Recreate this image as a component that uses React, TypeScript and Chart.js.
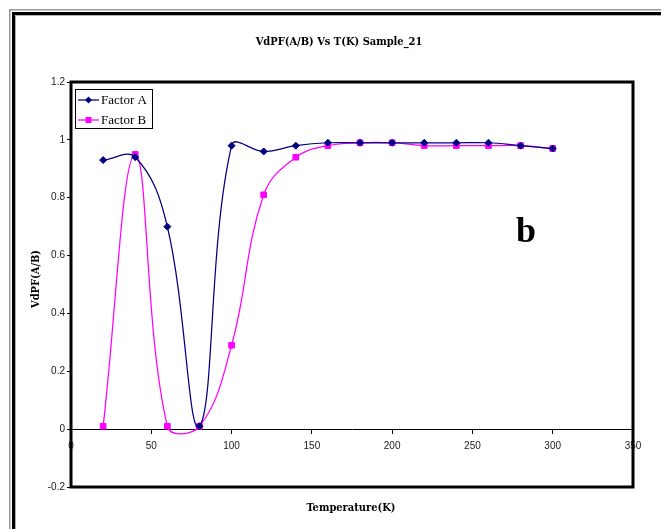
import React, { useEffect, useRef } from "react";
import { Chart, registerables } from "chart.js";

Chart.register(...registerables);

const temperatures = [20, 40, 60, 80, 100, 120, 140, 160, 180, 200, 220, 240, 260, 280, 300];
const factorA = [0.93, 0.94, 0.70, 0.01, 0.98, 0.96, 0.98, 0.99, 0.99, 0.99, 0.99, 0.99, 0.99, 0.98, 0.97];
const factorB = [0.01, 0.95, 0.01, 0.01, 0.29, 0.81, 0.94, 0.98, 0.99, 0.99, 0.98, 0.98, 0.98, 0.98, 0.97];
const xTicks = [0, 50, 100, 150, 200, 250, 300, 350];
const yTicks = [-0.2, 0, 0.2, 0.4, 0.6, 0.8, 1, 1.2];
const seriesNames = ["Factor A", "Factor B"];
const seriesColors = ["#000080", "#FF00FF"];
const chartTitle = "VdPF(A/B) Vs T(K) Sample_21";
const xTitle = "Temperature(K)";
const yTitle = "VdPF(A/B)";
const panelLabel = "b";

const TITLE_FONT = "bold 11px 'DejaVu Serif Condensed', 'DejaVu Serif', serif";

function drawMarker(ctx: CanvasRenderingContext2D, kind: string, x: number, y: number, color: string) {
  ctx.save();
  ctx.fillStyle = color;
  ctx.beginPath();
  if (kind === "diamond") {
    ctx.moveTo(x, y - 3.5);
    ctx.lineTo(x + 3.5, y);
    ctx.lineTo(x, y + 3.5);
    ctx.lineTo(x - 3.5, y);
    ctx.closePath();
  } else {
    ctx.rect(x - 3, y - 3, 6, 6);
  }
  ctx.fill();
  ctx.restore();
}

const decorPlugin = {
  id: "decor",
  beforeDraw(chart: any) {
    const ctx = chart.ctx as CanvasRenderingContext2D;
    const W = chart.width;
    const H = chart.height;
    ctx.save();
    ctx.fillStyle = "#ffffff";
    ctx.fillRect(0, 0, W, H);
    ctx.strokeStyle = "#9a9a9a";
    ctx.lineWidth = 1.5;
    ctx.beginPath();
    ctx.moveTo(9.75, H);
    ctx.lineTo(9.75, 9.75);
    ctx.lineTo(W, 9.75);
    ctx.stroke();
    ctx.strokeStyle = "#000000";
    ctx.lineWidth = 3;
    ctx.beginPath();
    ctx.moveTo(13.5, H);
    ctx.lineTo(13.5, 13.5);
    ctx.lineTo(W, 13.5);
    ctx.stroke();
    ctx.strokeStyle = "#b0b0b0";
    ctx.lineWidth = 1;
    ctx.beginPath();
    ctx.moveTo(15.5, H);
    ctx.lineTo(15.5, 15.5);
    ctx.lineTo(W, 15.5);
    ctx.stroke();
    ctx.restore();
  },
  afterDraw(chart: any) {
    const ctx = chart.ctx as CanvasRenderingContext2D;
    const a = chart.chartArea;
    ctx.save();
    ctx.strokeStyle = "#000000";
    ctx.lineWidth = 3;
    ctx.strokeRect(a.left, a.top, a.right - a.left, a.bottom - a.top);

    ctx.fillStyle = "#000000";
    ctx.font = TITLE_FONT;
    ctx.textAlign = "center";
    ctx.textBaseline = "middle";
    ctx.fillText(chartTitle, 339, 42);
    ctx.fillText(xTitle, 351, 508);
    ctx.save();
    ctx.translate(36, 279);
    ctx.rotate(-Math.PI / 2);
    ctx.fillText(yTitle, 0, 0);
    ctx.restore();

    ctx.font = "bold 36px 'Liberation Serif', serif";
    ctx.textAlign = "left";
    ctx.textBaseline = "alphabetic";
    ctx.fillText(panelLabel, 516, 242);

    const lx = 75.5, ly = 89.5, lw = 77, lh = 39;
    ctx.fillStyle = "#ffffff";
    ctx.fillRect(lx, ly, lw, lh);
    ctx.strokeStyle = "#000000";
    ctx.lineWidth = 1;
    ctx.strokeRect(lx, ly, lw, lh);
    const rows = [100, 120];
    seriesNames.forEach((name, i) => {
      const y = rows[i];
      ctx.strokeStyle = seriesColors[i];
      ctx.lineWidth = 1.25;
      ctx.beginPath();
      ctx.moveTo(78, y);
      ctx.lineTo(99, y);
      ctx.stroke();
      drawMarker(ctx, i === 0 ? "diamond" : "square", 88.5, y, seriesColors[i]);
      ctx.fillStyle = "#000000";
      ctx.font = "13px 'Liberation Serif', serif";
      ctx.textAlign = "left";
      ctx.textBaseline = "middle";
      ctx.fillText(name, 101, y + 0.5);
    });
    ctx.restore();
  },
};

export default function App() {
  const canvasRef = useRef<HTMLCanvasElement | null>(null);

  useEffect(() => {
    const canvas = canvasRef.current;
    if (!canvas) return;
    const toPoints = (ys: number[]) => temperatures.map((t, i) => ({ x: t, y: ys[i] }));
    const chart = new Chart(canvas, {
      type: "line",
      data: {
        datasets: [
          {
            label: seriesNames[0],
            data: toPoints(factorA),
            borderColor: seriesColors[0],
            backgroundColor: seriesColors[0],
            borderWidth: 1.25,
            pointStyle: "rectRot",
            pointRadius: 3.5,
            pointBorderWidth: 1,
            tension: 0.4,
            fill: false,
          },
          {
            label: seriesNames[1],
            data: toPoints(factorB),
            borderColor: seriesColors[1],
            backgroundColor: seriesColors[1],
            borderWidth: 1.25,
            pointStyle: "rect",
            pointRadius: 4,
            pointBorderWidth: 1,
            tension: 0.4,
            fill: false,
          },
        ],
      },
      options: {
        responsive: false,
        animation: false,
        events: [],
        layout: { padding: { left: 0, top: 82, right: 28, bottom: 42 } },
        plugins: {
          legend: { display: false },
          title: { display: false },
          tooltip: { enabled: false },
        },
        scales: {
          x: {
            type: "linear",
            min: 0,
            max: 350,
            position: { y: 0 } as any,
            afterBuildTicks: (scale: any) => {
              scale.ticks = xTicks.map((v) => ({ value: v }));
            },
            ticks: {
              color: "#1a1a1a",
              font: { family: "'Liberation Sans', Arial, sans-serif", size: 10 },
              padding: 7,
              maxRotation: 0,
              autoSkip: false,
            },
            grid: {
              display: true,
              drawOnChartArea: false,
              drawTicks: true,
              tickLength: 4,
              color: "#000000",
              lineWidth: 1,
            },
            border: { display: true, color: "#000000", width: 1 },
          },
          y: {
            type: "linear",
            min: -0.2,
            max: 1.2,
            afterBuildTicks: (scale: any) => {
              scale.ticks = yTicks.map((v) => ({ value: v }));
            },
            afterFit: (scale: any) => {
              scale.width = 71;
            },
            ticks: {
              color: "#1a1a1a",
              font: { family: "'Liberation Sans', Arial, sans-serif", size: 10 },
              padding: 2,
              callback: (v: any) => String(Number(Number(v).toFixed(1))),
            },
            grid: {
              display: true,
              drawOnChartArea: false,
              drawTicks: true,
              tickLength: 4,
              color: "#000000",
              lineWidth: 1,
            },
            border: { display: false },
          },
        },
      },
      plugins: [decorPlugin],
    });
    return () => {
      chart.destroy();
    };
  }, []);

  return (
    <div style={{ position: "absolute", left: 0, top: 0, width: 661, height: 529 }}>
      <canvas ref={canvasRef} width={661} height={529} style={{ display: "block" }} />
    </div>
  );
}
